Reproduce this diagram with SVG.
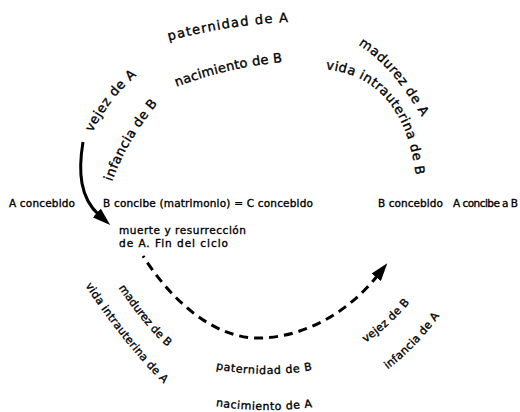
<svg xmlns="http://www.w3.org/2000/svg" width="520" height="412" viewBox="0 0 520 412">
<style>
text{font-family:"DejaVu Sans","Liberation Sans",sans-serif;fill:#000;stroke:#000;stroke-width:0.35;}
.arcU{font-size:13px;}
.arcL{font-size:11px;}
.mid{font-size:10.5px;}
.conn{fill:none;stroke:#000;stroke-width:3;}
.dash{stroke-dasharray:9 6;stroke-dashoffset:7;}
</style>
<defs>
<path id="p1" d="M168,41 Q229.5,24.5 289,22"/>
<path id="p2" d="M176,87 Q226.5,67.5 283,62"/>
<path id="p3" d="M92,133 Q109.5,98 137,75"/>
<path id="p4" d="M112,182 Q125,143.5 158,103"/>
<path id="p5" d="M358,45 Q390,63 422,117"/>
<path id="p6" d="M324,69 Q404,77 416,177"/>
<path id="p7" d="M118,287 Q145,327 168,347"/>
<path id="p8" d="M85,285 Q121.5,341.5 164,384"/>
<path id="p9" d="M215,369 Q264,378.5 313,370"/>
<path id="p10" d="M215,406 Q264,413.5 313,407"/>
<path id="p11" d="M365,343 Q388.5,327.5 410,302"/>
<path id="p12" d="M387,370 Q416.5,347.5 440,315"/>
<marker id="ah" markerUnits="userSpaceOnUse" viewBox="0 0 18 12" markerWidth="18" markerHeight="12" refX="3" refY="6" orient="auto"><path d="M0,0 L18,6 L0,12 z" fill="#000"/></marker>
</defs>

<g id="connectors">
<path class="conn" d="M83,142 C78,172 80,198 99,215" marker-end="url(#ah)"/>
<path class="conn dash" d="M143,256 C171,300 213,338 258,338 C303,338 348,313 378,275" marker-end="url(#ah)"/>
</g>

<g id="paternidad-A"><text class="arcU"><textPath href="#p1" startOffset="50%" text-anchor="middle" textLength="121">paternidad de A</textPath></text></g>
<g id="nacimiento-B"><text class="arcU"><textPath href="#p2" startOffset="50%" text-anchor="middle" textLength="109">nacimiento de B</textPath></text></g>
<g id="vejez-A"><text class="arcU"><textPath href="#p3" startOffset="50%" text-anchor="middle" textLength="73">vejez de A</textPath></text></g>
<g id="infancia-B"><text class="arcU"><textPath href="#p4" startOffset="50%" text-anchor="middle" textLength="91">infancia de B</textPath></text></g>
<g id="madurez-A"><text class="arcU"><textPath href="#p5" startOffset="50%" text-anchor="middle" textLength="97">madurez de A</textPath></text></g>
<g id="vida-intrauterina-B"><text class="arcU"><textPath href="#p6" startOffset="50%" text-anchor="middle" textLength="152">vida intrauterina de B</textPath></text></g>
<g id="madurez-B"><text class="arcL"><textPath href="#p7" startOffset="50%" text-anchor="middle" textLength="77">madurez de B</textPath></text></g>
<g id="vida-intrauterina-A"><text class="arcL"><textPath href="#p8" startOffset="50%" text-anchor="middle" textLength="126">vida intrauterina de A</textPath></text></g>
<g id="paternidad-B"><text class="arcL"><textPath href="#p9" startOffset="50%" text-anchor="middle" textLength="97">paternidad de B</textPath></text></g>
<g id="nacimiento-A"><text class="arcL"><textPath href="#p10" startOffset="50%" text-anchor="middle" textLength="97">nacimiento de A</textPath></text></g>
<g id="vejez-B"><text class="arcL"><textPath href="#p11" startOffset="50%" text-anchor="middle" textLength="60">vejez de B</textPath></text></g>
<g id="infancia-A"><text class="arcL"><textPath href="#p12" startOffset="50%" text-anchor="middle" textLength="75">infancia de A</textPath></text></g>

<g id="A-concebido"><text class="mid" x="9" y="207" textLength="66">A concebido</text></g>
<g id="B-concibe"><text class="mid" x="103" y="207" textLength="210">B concibe (matrimonio) = C concebido</text></g>
<g id="B-concebido"><text class="mid" x="378" y="207" textLength="65">B concebido</text></g>
<g id="A-concibe-B"><text class="mid" x="453" y="207" textLength="65">A concibe a B</text></g>
<g id="muerte"><text class="mid" x="119" y="234" textLength="127">muerte y resurrección</text><text class="mid" x="119" y="247" textLength="109">de A. Fin del ciclo</text></g>
</svg>
